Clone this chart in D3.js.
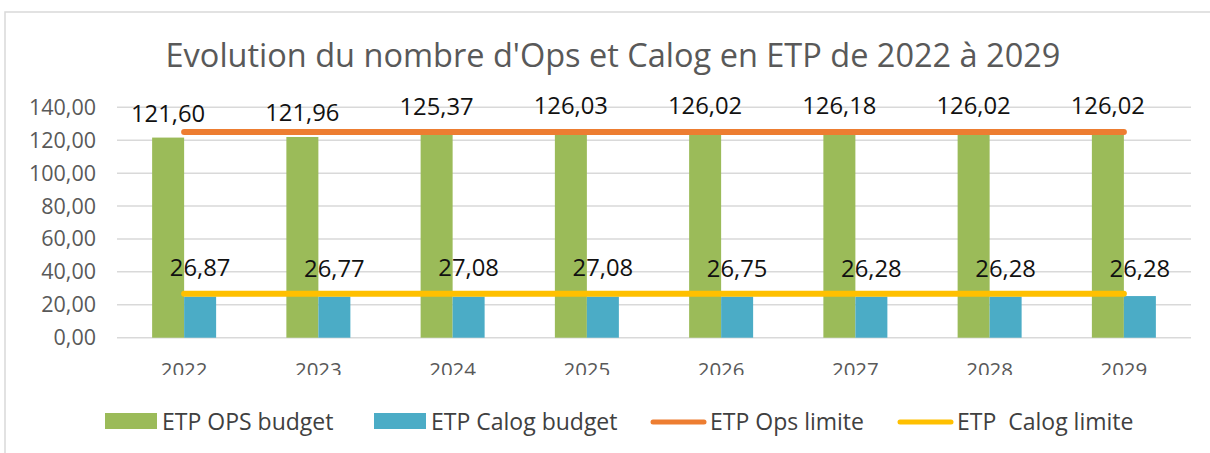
<!DOCTYPE html>
<html lang="fr">
<head>
<meta charset="UTF-8">
<title>Evolution ETP</title>
<style>
  body { margin: 0; background: #fff; }
  text { font-family: "Open Sans", sans-serif; }
</style>
</head>
<body>
<svg></svg>
<script src="https://d3js.org/d3.v7.min.js"></script>
<script>
// data
const years = ["2022", "2023", "2024", "2025", "2026", "2027", "2028", "2029"];
const opsBudget = [121.60, 121.96, 125.37, 126.03, 126.02, 126.18, 126.02, 126.02];
const calogBudget = [25.0, 25.0, 25.0, 25.0, 25.0, 25.0, 25.0, 25.3];
const calogLabels = [26.87, 26.77, 27.08, 27.08, 26.75, 26.28, 26.28, 26.28];
const opsLimite = [125, 125, 125, 125, 125, 125, 125, 125];
const calogLimite = [26.7, 26.7, 26.7, 26.7, 26.7, 26.7, 26.7, 26.7];
const yTicks = [0, 20, 40, 60, 80, 100, 120, 140];
const legendLabels = ["ETP OPS budget", "ETP Calog budget", "ETP Ops limite", "ETP\u00a0 Calog limite"];

const width = 1210, height = 453;
const colors = { ops: "#9BBB59", calog: "#4BACC6", opsLim: "#ED7D31", calogLim: "#FFC000" };

const svg = d3.select("svg").attr("width", width).attr("height", height);

// outer chart frame
svg.append("rect")
  .attr("x", 5).attr("y", 12)
  .attr("width", 1220).attr("height", 460)
  .attr("fill", "none").attr("stroke", "#d9d9d9").attr("stroke-width", 1.5);

// title
svg.append("text")
  .attr("x", 613).attr("y", 67)
  .attr("text-anchor", "middle")
  .attr("font-size", 32.5)
  .attr("fill", "#595959")
  .text("Evolution du nombre d'Ops et Calog en ETP de 2022 \u00e0 2029");

const x = d3.scaleBand().domain(years).range([117, 1191]).padding(0);
const y = d3.scaleLinear().domain([0, 140]).range([337.7, 107.3]);
const barW = 32;

const fmt = v => d3.format(".2f")(v).replace(".", ",");

// gridlines
svg.append("g")
  .selectAll("line")
  .data(yTicks)
  .join("line")
  .attr("x1", 117).attr("x2", 1191)
  .attr("y1", d => y(d)).attr("y2", d => y(d))
  .attr("stroke", "#d9d9d9").attr("stroke-width", 1.5);

// y axis labels
svg.append("g")
  .selectAll("text")
  .data(yTicks)
  .join("text")
  .attr("x", 96)
  .attr("y", d => y(d) + 7.5)
  .attr("text-anchor", "end")
  .attr("font-size", 21.5)
  .attr("fill", "#595959")
  .text(d => fmt(d));

// x axis labels (cut at the bottom as in the reference)
svg.append("clipPath").attr("id", "xclip")
  .append("rect").attr("x", 0).attr("y", 340).attr("width", width).attr("height", 35);

svg.append("g")
  .attr("clip-path", "url(#xclip)")
  .selectAll("text")
  .data(years)
  .join("text")
  .attr("x", d => x(d) + x.bandwidth() / 2)
  .attr("y", 376.5)
  .attr("text-anchor", "middle")
  .attr("font-size", 20.5)
  .attr("fill", "#595959")
  .text(d => d);

// bars
const cx = d => x(d) + x.bandwidth() / 2;

svg.append("g")
  .selectAll("rect")
  .data(years)
  .join("rect")
  .attr("x", d => cx(d) - barW)
  .attr("y", (d, i) => y(opsBudget[i]))
  .attr("width", barW)
  .attr("height", (d, i) => y(0) - y(opsBudget[i]))
  .attr("fill", colors.ops);

svg.append("g")
  .selectAll("rect")
  .data(years)
  .join("rect")
  .attr("x", d => cx(d))
  .attr("y", (d, i) => y(calogBudget[i]))
  .attr("width", barW)
  .attr("height", (d, i) => y(0) - y(calogBudget[i]))
  .attr("fill", colors.calog);

// limit lines
const line = vals => d3.line()
  .x(d => cx(d))
  .y((d, i) => y(vals[i]))(years);

svg.append("path")
  .attr("d", line(opsLimite))
  .attr("fill", "none").attr("stroke", colors.opsLim)
  .attr("stroke-width", 6).attr("stroke-linecap", "round");

svg.append("path")
  .attr("d", line(calogLimite))
  .attr("fill", "none").attr("stroke", colors.calogLim)
  .attr("stroke-width", 6).attr("stroke-linecap", "round");

// data labels
svg.append("g")
  .selectAll("text")
  .data(years)
  .join("text")
  .attr("x", d => cx(d) - barW / 2)
  .attr("y", (d, i) => y(opsBudget[i]) - 16)
  .attr("text-anchor", "middle")
  .attr("font-size", 23.8)
  .attr("fill", "#111")
  .text((d, i) => fmt(opsBudget[i]));

svg.append("g")
  .selectAll("text")
  .data(years)
  .join("text")
  .attr("x", d => cx(d) + barW / 2)
  .attr("y", (d, i) => y(calogLabels[i]) - 17)
  .attr("text-anchor", "middle")
  .attr("font-size", 23.8)
  .attr("fill", "#111")
  .text((d, i) => fmt(calogLabels[i]));

// legend
const legendX = [105, 374, 650, 897];
const legendKinds = ["rect", "rect", "line", "line"];
const legendColors = [colors.ops, colors.calog, colors.opsLim, colors.calogLim];
const lg = svg.append("g");
legendLabels.forEach((lab, i) => {
  const g = lg.append("g").attr("transform", `translate(${legendX[i]},421)`);
  if (legendKinds[i] === "rect") {
    g.append("rect").attr("x", 0).attr("y", -8).attr("width", 52).attr("height", 16)
      .attr("fill", legendColors[i]);
  } else {
    g.append("line").attr("x1", 3).attr("x2", 54).attr("y1", 1).attr("y2", 1)
      .attr("stroke", legendColors[i]).attr("stroke-width", 5).attr("stroke-linecap", "round");
  }
  g.append("text")
    .attr("x", legendKinds[i] === "rect" ? 57 : 60)
    .attr("y", 8.5)
    .attr("font-size", 23)
    .attr("fill", "#404040")
    .text(lab);
});
</script>
</body>
</html>
